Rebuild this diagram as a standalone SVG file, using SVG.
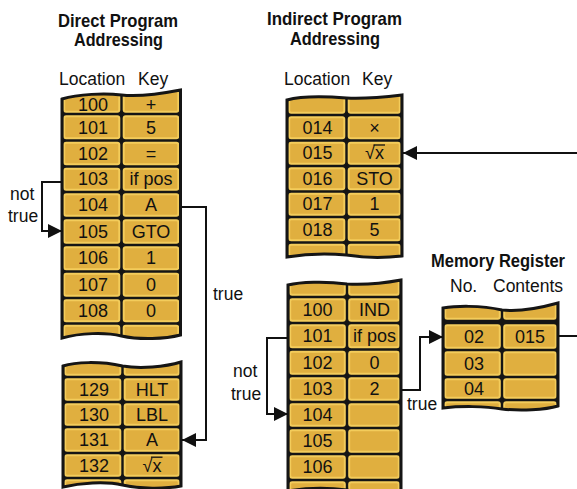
<svg xmlns="http://www.w3.org/2000/svg" width="577" height="489" viewBox="0 0 577 489">
<style>
text{font-family:"Liberation Sans",Arial,sans-serif;fill:#111}
.h{font-size:19px;font-weight:bold}
.lb{font-size:17.5px}
.v{font-size:18px;text-anchor:middle}
.c{fill:#E0AF3F;stroke:#F3CC5B;stroke-width:2}
.o{fill:#151515}
.os{fill:none;stroke:#151515;stroke-width:3}
.ln{fill:none;stroke:#111;stroke-width:2}
.vin{stroke:#111;stroke-width:1.3}
</style>
<defs>
<marker id="ah" markerUnits="userSpaceOnUse" markerWidth="15" markerHeight="14" refX="14" refY="7" orient="auto"><path d="M0,0 L14,7 L0,14 Z" fill="#111"/></marker>
<clipPath id="k1"><path d="M62,99 C78,94 105,93 121.5,95 C140,97 165,93 180.5,90 L180.5,335 C165,339 140,340 121.5,336 C105,332 80,333 62,338 Z"/></clipPath>
<clipPath id="k2"><path d="M63,366 C75,362 100,361 122.5,366 C140,369 165,367 181,362 L181,486 C165,489 140,489 122.5,485 C105,481 80,483 63,487 Z"/></clipPath>
<clipPath id="k3"><path d="M287,100 C298,97 320,96 346.5,98 C365,99 385,97 402,95 L402,256 C385,258 365,258 346.5,255 C325,253 305,254 287,257 Z"/></clipPath>
<clipPath id="k4"><path d="M288,285 C300,282 325,281 347,284 C365,285 385,283 401,280 L401,491 C385,494 365,494 347,490 C325,487 305,488 288,491 Z"/></clipPath>
<clipPath id="k5"><path d="M443,308 C455,306 480,305 502,310 C520,312 540,308 558,303 L558,406 C545,410 520,411 502,409 C485,406 460,406 443,408 Z"/></clipPath>
</defs>
<rect width="577" height="489" fill="#fff"/>

<g id="titles">
<text class="h" x="58" y="27" textLength="120" lengthAdjust="spacingAndGlyphs">Direct Program</text>
<text class="h" x="74" y="46" textLength="89" lengthAdjust="spacingAndGlyphs">Addressing</text>
<text class="lb" x="59" y="85">Location</text>
<text class="lb" x="138" y="85">Key</text>
<text class="h" x="267" y="25" textLength="135" lengthAdjust="spacingAndGlyphs">Indirect Program</text>
<text class="h" x="290" y="45" textLength="90" lengthAdjust="spacingAndGlyphs">Addressing</text>
<text class="lb" x="284" y="85">Location</text>
<text class="lb" x="362" y="85">Key</text>
<text class="h" x="431" y="267" style="font-size:17.5px" textLength="134" lengthAdjust="spacingAndGlyphs">Memory Register</text>
<text class="lb" x="450" y="292">No.</text>
<text class="lb" x="493" y="292">Contents</text>
</g>

<g id="direct-top">
<path class="o" d="M62,99 C78,94 105,93 121.5,95 C140,97 165,93 180.5,90 L180.5,335 C165,339 140,340 121.5,336 C105,332 80,333 62,338 Z"/>
<g clip-path="url(#k1)">
<rect class="c" x="64.2" y="87.2" width="55.1" height="24.6" rx="2"/><rect class="c" x="123.7" y="87.2" width="54.6" height="24.6" rx="2"/>
<rect class="c" x="64.2" y="116.2" width="55.1" height="22.1" rx="2"/><rect class="c" x="123.7" y="116.2" width="54.6" height="22.1" rx="2"/>
<rect class="c" x="64.2" y="142.7" width="55.1" height="21.6" rx="2"/><rect class="c" x="123.7" y="142.7" width="54.6" height="21.6" rx="2"/>
<rect class="c" x="64.2" y="168.7" width="55.1" height="21.1" rx="2"/><rect class="c" x="123.7" y="168.7" width="54.6" height="21.1" rx="2"/>
<rect class="c" x="64.2" y="194.2" width="55.1" height="21.6" rx="2"/><rect class="c" x="123.7" y="194.2" width="54.6" height="21.6" rx="2"/>
<rect class="c" x="64.2" y="220.2" width="55.1" height="22.6" rx="2"/><rect class="c" x="123.7" y="220.2" width="54.6" height="22.6" rx="2"/>
<rect class="c" x="64.2" y="247.2" width="55.1" height="22.1" rx="2"/><rect class="c" x="123.7" y="247.2" width="54.6" height="22.1" rx="2"/>
<rect class="c" x="64.2" y="273.7" width="55.1" height="22.1" rx="2"/><rect class="c" x="123.7" y="273.7" width="54.6" height="22.1" rx="2"/>
<rect class="c" x="64.2" y="300.2" width="55.1" height="21.1" rx="2"/><rect class="c" x="123.7" y="300.2" width="54.6" height="21.1" rx="2"/>
<rect class="c" x="64.2" y="325.7" width="55.1" height="22.1" rx="2"/><rect class="c" x="123.7" y="325.7" width="54.6" height="22.1" rx="2"/>
</g>
<path class="os" d="M62,99 C78,94 105,93 121.5,95 C140,97 165,93 180.5,90 L180.5,335 C165,339 140,340 121.5,336 C105,332 80,333 62,338 Z"/>
<text class="v" x="93" y="111">100</text><text class="v" x="151" y="111">+</text>
<text class="v" x="93" y="133.5">101</text><text class="v" x="151" y="133.5">5</text>
<text class="v" x="93" y="159.5">102</text><text class="v" x="151" y="159.5">=</text>
<text class="v" x="93" y="185">103</text><text class="v" x="151" y="185">if pos</text>
<text class="v" x="93" y="211">104</text><text class="v" x="151" y="211">A</text>
<text class="v" x="93" y="237.5">105</text><text class="v" x="151" y="237.5">GTO</text>
<text class="v" x="93" y="264">106</text><text class="v" x="151" y="264">1</text>
<text class="v" x="93" y="290.5">107</text><text class="v" x="151" y="290.5">0</text>
<text class="v" x="93" y="316.5">108</text><text class="v" x="151" y="316.5">0</text>
</g>

<g id="direct-bottom">
<path class="o" d="M63,366 C75,362 100,361 122.5,366 C140,369 165,367 181,362 L181,486 C165,489 140,489 122.5,485 C105,481 80,483 63,487 Z"/>
<g clip-path="url(#k2)">
<rect class="c" x="65.2" y="357.2" width="55.1" height="17.6" rx="2"/><rect class="c" x="124.7" y="357.2" width="54.1" height="17.6" rx="2"/>
<rect class="c" x="65.2" y="379.2" width="55.1" height="20.6" rx="2"/><rect class="c" x="124.7" y="379.2" width="54.1" height="20.6" rx="2"/>
<rect class="c" x="65.2" y="404.2" width="55.1" height="20.6" rx="2"/><rect class="c" x="124.7" y="404.2" width="54.1" height="20.6" rx="2"/>
<rect class="c" x="65.2" y="429.2" width="55.1" height="21.6" rx="2"/><rect class="c" x="124.7" y="429.2" width="54.1" height="21.6" rx="2"/>
<rect class="c" x="65.2" y="455.2" width="55.1" height="20.6" rx="2"/><rect class="c" x="124.7" y="455.2" width="54.1" height="20.6" rx="2"/>
<rect class="c" x="65.2" y="480.2" width="55.1" height="12.6" rx="2"/><rect class="c" x="124.7" y="480.2" width="54.1" height="12.6" rx="2"/>
</g>
<path class="os" d="M63,366 C75,362 100,361 122.5,366 C140,369 165,367 181,362 L181,486 C165,489 140,489 122.5,485 C105,481 80,483 63,487 Z"/>
<text class="v" x="94" y="395.5">129</text><text class="v" x="152" y="395.5">HLT</text>
<text class="v" x="94" y="420.5">130</text><text class="v" x="152" y="420.5">LBL</text>
<text class="v" x="94" y="446">131</text><text class="v" x="152" y="446">A</text>
<text class="v" x="94" y="471.5">132</text><text class="v" x="152" y="471.5">√x</text>
<line class="vin" x1="151" y1="457.2" x2="162.5" y2="457.2"/>
</g>

<g id="indirect-top">
<path class="o" d="M287,100 C298,97 320,96 346.5,98 C365,99 385,97 402,95 L402,256 C385,258 365,258 346.5,255 C325,253 305,254 287,257 Z"/>
<g clip-path="url(#k3)">
<rect class="c" x="289.2" y="87.2" width="55.1" height="25.6" rx="2"/><rect class="c" x="348.7" y="87.2" width="51.1" height="25.6" rx="2"/>
<rect class="c" x="289.2" y="117.2" width="55.1" height="21.1" rx="2"/><rect class="c" x="348.7" y="117.2" width="51.1" height="21.1" rx="2"/>
<rect class="c" x="289.2" y="142.7" width="55.1" height="21.1" rx="2"/><rect class="c" x="348.7" y="142.7" width="51.1" height="21.1" rx="2"/>
<rect class="c" x="289.2" y="168.2" width="55.1" height="21.1" rx="2"/><rect class="c" x="348.7" y="168.2" width="51.1" height="21.1" rx="2"/>
<rect class="c" x="289.2" y="193.7" width="55.1" height="21.1" rx="2"/><rect class="c" x="348.7" y="193.7" width="51.1" height="21.1" rx="2"/>
<rect class="c" x="289.2" y="219.2" width="55.1" height="21.1" rx="2"/><rect class="c" x="348.7" y="219.2" width="51.1" height="21.1" rx="2"/>
<rect class="c" x="289.2" y="244.7" width="55.1" height="18.1" rx="2"/><rect class="c" x="348.7" y="244.7" width="51.1" height="18.1" rx="2"/>
</g>
<path class="os" d="M287,100 C298,97 320,96 346.5,98 C365,99 385,97 402,95 L402,256 C385,258 365,258 346.5,255 C325,253 305,254 287,257 Z"/>
<text class="v" x="317.5" y="133.75">014</text><text class="v" x="374.5" y="133.75">×</text>
<text class="v" x="317.5" y="159.25">015</text><text class="v" x="374.5" y="159.25">√x</text>
<line class="vin" x1="373.5" y1="145" x2="385" y2="145"/>
<text class="v" x="317.5" y="184.75">016</text><text class="v" x="374.5" y="184.75">STO</text>
<text class="v" x="317.5" y="210.25">017</text><text class="v" x="374.5" y="210.25">1</text>
<text class="v" x="317.5" y="235.75">018</text><text class="v" x="374.5" y="235.75">5</text>
</g>

<g id="indirect-bottom">
<path class="o" d="M288,285 C300,282 325,281 347,284 C365,285 385,283 401,280 L401,491 C385,494 365,494 347,490 C325,487 305,488 288,491 Z"/>
<g clip-path="url(#k4)">
<rect class="c" x="290.2" y="272.2" width="54.6" height="22.6" rx="2"/><rect class="c" x="349.2" y="272.2" width="49.6" height="22.6" rx="2"/>
<rect class="c" x="290.2" y="299.2" width="54.6" height="21.6" rx="2"/><rect class="c" x="349.2" y="299.2" width="49.6" height="21.6" rx="2"/>
<rect class="c" x="290.2" y="325.2" width="54.6" height="22.1" rx="2"/><rect class="c" x="349.2" y="325.2" width="49.6" height="22.1" rx="2"/>
<rect class="c" x="290.2" y="351.7" width="54.6" height="22.1" rx="2"/><rect class="c" x="349.2" y="351.7" width="49.6" height="22.1" rx="2"/>
<rect class="c" x="290.2" y="378.2" width="54.6" height="21.6" rx="2"/><rect class="c" x="349.2" y="378.2" width="49.6" height="21.6" rx="2"/>
<rect class="c" x="290.2" y="404.2" width="54.6" height="21.6" rx="2"/><rect class="c" x="349.2" y="404.2" width="49.6" height="21.6" rx="2"/>
<rect class="c" x="290.2" y="430.2" width="54.6" height="21.6" rx="2"/><rect class="c" x="349.2" y="430.2" width="49.6" height="21.6" rx="2"/>
<rect class="c" x="290.2" y="456.2" width="54.6" height="21.6" rx="2"/><rect class="c" x="349.2" y="456.2" width="49.6" height="21.6" rx="2"/>
<rect class="c" x="290.2" y="482.2" width="54.6" height="15.6" rx="2"/><rect class="c" x="349.2" y="482.2" width="49.6" height="15.6" rx="2"/>
</g>
<path class="os" d="M288,285 C300,282 325,281 347,284 C365,285 385,283 401,280 L401,491 C385,494 365,494 347,490 C325,487 305,488 288,491 Z"/>
<text class="v" x="317.5" y="316">100</text><text class="v" x="374.5" y="316">IND</text>
<text class="v" x="317.5" y="342.25">101</text><text class="v" x="374.5" y="342.25">if pos</text>
<text class="v" x="317.5" y="368.75">102</text><text class="v" x="374.5" y="368.75">0</text>
<text class="v" x="317.5" y="395">103</text><text class="v" x="374.5" y="395">2</text>
<text class="v" x="317.5" y="421">104</text>
<text class="v" x="317.5" y="447">105</text>
<text class="v" x="317.5" y="473">106</text>
</g>

<g id="memory-register">
<path class="o" d="M443,308 C455,306 480,305 502,310 C520,312 540,308 558,303 L558,406 C545,410 520,411 502,409 C485,406 460,406 443,408 Z"/>
<g clip-path="url(#k5)">
<rect class="c" x="445.2" y="297.2" width="54.6" height="21.6" rx="2"/><rect class="c" x="504.2" y="297.2" width="51.6" height="21.6" rx="2"/>
<rect class="c" x="445.2" y="325.2" width="54.6" height="22.6" rx="2"/><rect class="c" x="504.2" y="325.2" width="51.6" height="22.6" rx="2"/>
<rect class="c" x="445.2" y="352.2" width="54.6" height="22.6" rx="2"/><rect class="c" x="504.2" y="352.2" width="51.6" height="22.6" rx="2"/>
<rect class="c" x="445.2" y="379.2" width="54.6" height="18.6" rx="2"/><rect class="c" x="504.2" y="379.2" width="51.6" height="18.6" rx="2"/>
<rect class="c" x="445.2" y="402.2" width="54.6" height="13.6" rx="2"/><rect class="c" x="504.2" y="402.2" width="51.6" height="13.6" rx="2"/>
</g>
<path class="os" d="M443,308 C455,306 480,305 502,310 C520,312 540,308 558,303 L558,406 C545,410 520,411 502,409 C485,406 460,406 443,408 Z"/>
<text class="v" x="474" y="342.5">02</text><text class="v" x="530" y="342.5">015</text>
<text class="v" x="474" y="369.5">03</text>
<text class="v" x="474" y="394.5">04</text>
</g>

<g id="connectors">
<path class="ln" d="M62,182 H42 V231 H62" marker-end="url(#ah)"/>
<path class="ln" d="M181,207 H206 V440 H182" marker-end="url(#ah)"/>
<path class="ln" d="M577,153 H403" marker-end="url(#ah)"/>
<path class="ln" d="M288,338 H267 V414 H288" marker-end="url(#ah)"/>
<path class="ln" d="M401,390 H420 V337 H443" marker-end="url(#ah)"/>
<path class="ln" d="M558,336 H577"/>
<text class="lb" x="10" y="200">not</text>
<text class="lb" x="8" y="222">true</text>
<text class="lb" x="213" y="300">true</text>
<text class="lb" x="233" y="377">not</text>
<text class="lb" x="231" y="400">true</text>
<text class="lb" x="407" y="410">true</text>
</g>
</svg>
